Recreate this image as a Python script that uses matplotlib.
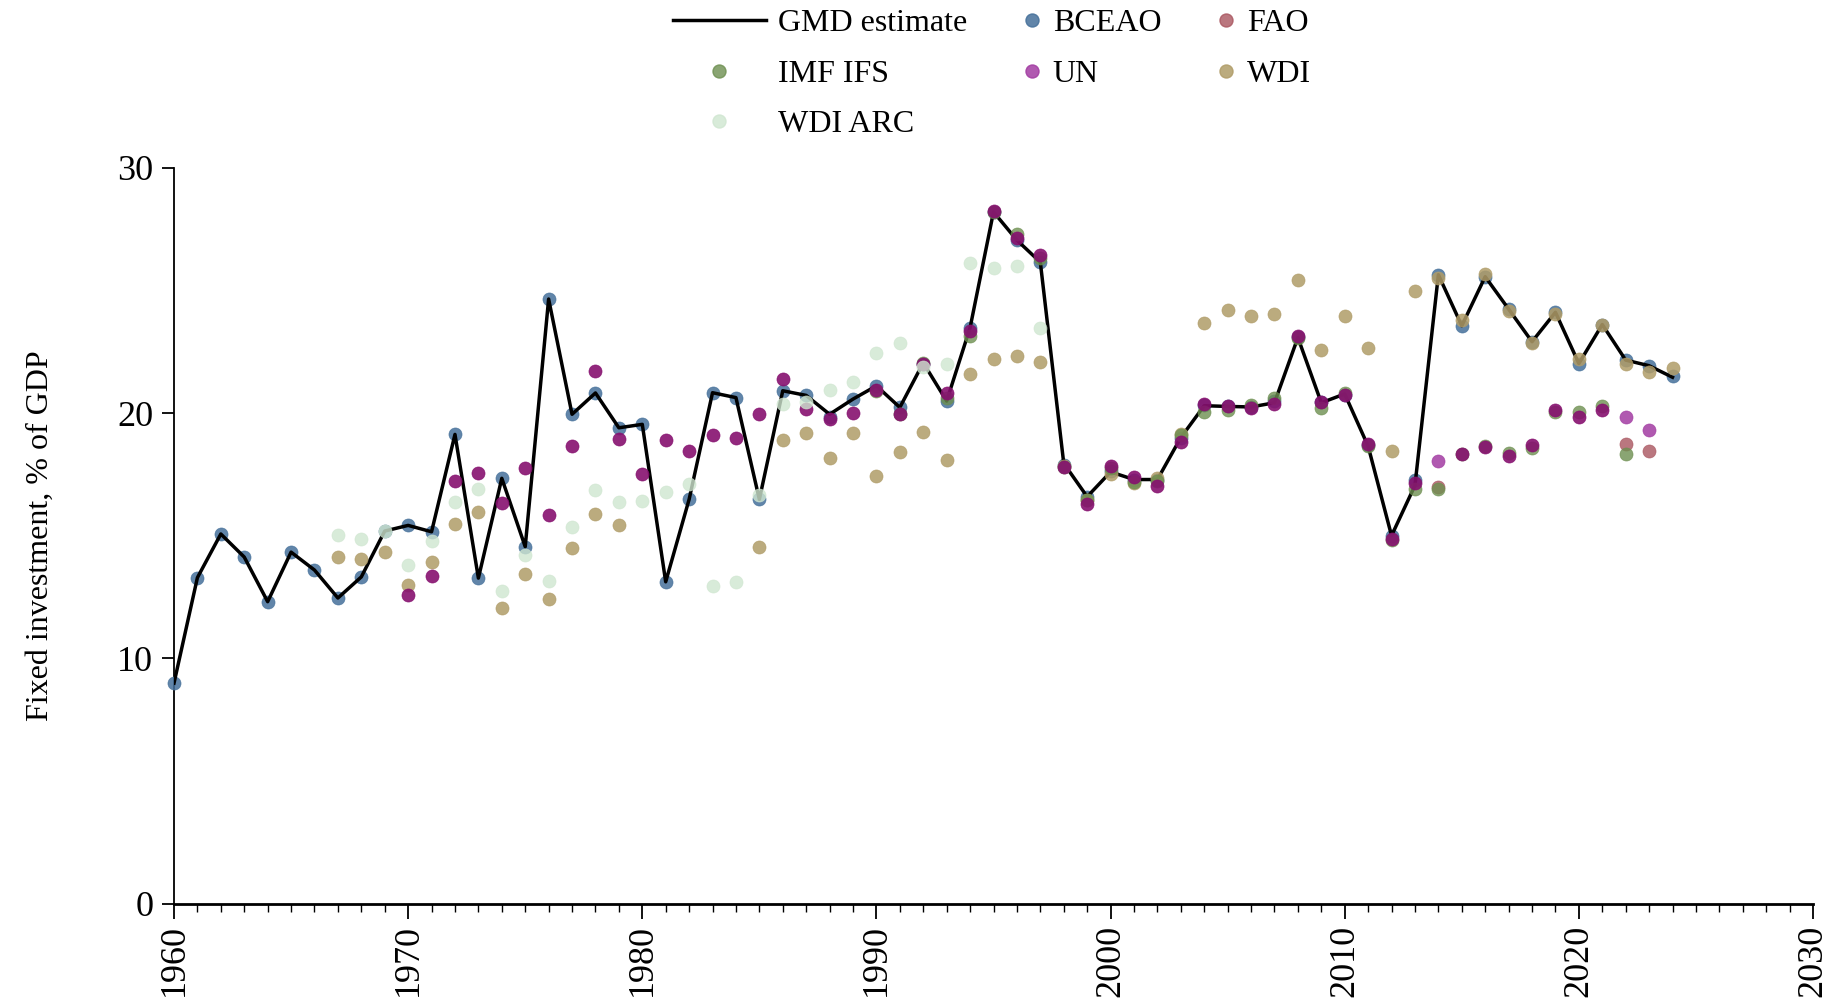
import numpy as np
import matplotlib
matplotlib.use("Agg")
import matplotlib.pyplot as plt
from matplotlib.lines import Line2D
from matplotlib.legend_handler import HandlerBase
from matplotlib.ticker import MultipleLocator

plt.rcParams['font.family'] = ['Liberation Serif', 'DejaVu Serif']

# ---------------- data ----------------
bceao_years = list(range(1960, 2025))
bceao_values = [8.99, 13.29, 15.07, 14.13, 12.31, 14.33, 13.6, 12.46, 13.32, 15.19,
                15.42, 15.16, 19.13, 13.27, 17.34, 14.55, 24.65, 19.95, 20.82, 19.4,
                19.54, 13.12, 16.48, 20.83, 20.63, 16.48, 20.91, 20.72, 19.82, 20.57,
                21.11, 20.23, 22.0, 20.49, 23.48, 28.2, 27.05, 26.15, 17.88, 16.59,
                17.63, 17.29, 17.29, 19.0, 20.34, 20.29, 20.23, 20.49, 23.1, 20.45,
                20.75, 18.7, 15.0, 17.26, 25.64, 23.56, 25.56, 24.24, 22.91, 24.11,
                22.02, 23.61, 22.16, 21.93, 21.5]

gmd_years = list(range(1960, 2025))
gmd_values = [8.99, 13.29, 15.07, 14.13, 12.31, 14.33, 13.6, 12.46, 13.32, 15.19,
              15.42, 15.16, 19.13, 13.27, 17.34, 14.55, 24.65, 19.95, 20.82, 19.4,
              19.54, 13.12, 16.48, 20.83, 20.63, 16.48, 20.91, 20.72, 19.95, 20.57,
              21.11, 20.23, 22.05, 20.49, 23.48, 28.2, 27.05, 26.15, 17.95, 16.59,
              17.6, 17.29, 17.29, 19.0, 20.3, 20.27, 20.25, 20.42, 23.08, 20.42,
              20.78, 18.65, 15.0, 17.05, 25.64, 23.56, 25.56, 24.24, 22.91, 24.11,
              22.02, 23.61, 22.16, 21.93, 21.46]

fao_years = [2014, 2022, 2023]
fao_values = [17.0, 18.75, 18.45]

imf_years = list(range(1990, 2023))
imf_values = [20.91, 19.95, 22.05, 20.6, 23.15, 28.2, 27.3, 26.32, 17.8, 16.44,
              17.78, 17.19, 17.24, 19.11, 20.05, 20.13, 20.32, 20.63, 23.07, 20.21,
              20.83, 18.67, 14.83, 16.9, 16.9, 18.33, 18.66, 18.38, 18.59, 20.03,
              20.03, 20.3, 18.34]

# UN points drawn in the darker shade
un_years = list(range(1970, 2014)) + list(range(2015, 2022))
un_values = [12.59, 13.37, 17.22, 17.56, 16.33, 17.76, 15.86, 18.66, 21.73, 18.93,
             17.5, 18.89, 18.46, 19.12, 18.98, 19.95, 21.38, 20.15, 19.74, 19.99,
             20.96, 19.98, 22.02, 20.8, 23.33, 28.24, 27.14, 26.44, 17.8, 16.3,
             17.86, 17.39, 17.03, 18.82, 20.38, 20.3, 20.2, 20.36, 23.15, 20.46,
             20.72, 18.73, 14.88, 17.16,
             18.35, 18.61, 18.23, 18.69, 20.13, 19.82, 20.13]
# UN points drawn in the lighter shade
un_light_years = [2014, 2022, 2023]
un_light_values = [18.03, 19.82, 19.29]

wdi_years = list(range(1967, 1980)) + list(range(1985, 2025))
wdi_values = [14.15, 14.07, 14.32, 13.01, 13.94, 15.46, 15.97, 12.06, 13.43, 12.42,
              14.49, 15.9, 15.42,
              14.53, 18.92, 19.18, 18.18, 19.17, 17.45, 18.43, 19.21, 18.1, 21.61,
              22.2, 22.33, 22.1, 17.84, 16.44, 17.53, 17.14, 17.37, 19.14, 23.69,
              24.22, 23.94, 24.05, 25.43, 22.59, 23.97, 22.67, 18.47, 24.98, 25.51,
              23.8, 25.69, 24.16, 22.87, 24.04, 22.22, 23.61, 22.0, 21.69, 21.85]

wdiarc_years = list(range(1967, 1998))
wdiarc_values = [15.04, 14.88, 15.2, 13.82, 14.79, 16.36, 16.9, 12.74, 14.21, 13.16,
                 15.35, 16.86, 16.36, 16.4, 16.8, 17.11, 12.96, 13.13, 16.64, 20.38,
                 20.46, 20.93, 21.27, 22.44, 22.86, 21.89, 22.0, 26.13, 25.9, 25.98,
                 23.45]

x_ticks = [1960, 1970, 1980, 1990, 2000, 2010, 2020, 2030]
y_ticks = [0, 10, 20, 30]
y_label = "Fixed investment, % of GDP"

# ---------------- figure ----------------
W, H = 1840, 1008
fig = plt.figure(figsize=(W / 100, H / 100), dpi=100)
ax = fig.add_axes([174 / W, 1 - 903.6 / H, (1813 - 174) / W, (903.6 - 167.8) / H])

ms = 9.4
c_bceao = '#45709a'
c_fao = '#a9555f'
c_imf = '#6d8f50'
c_un = '#86106f'
c_un_light = '#a23ca2'
c_wdi = '#b09c68'
c_wdiarc = '#cfe6d0'

def dots(xs, ys, color, alpha, z):
    ax.plot(xs, ys, linestyle='none', marker='o', markersize=ms,
            markerfacecolor=color, markeredgecolor=color, markeredgewidth=0.5,
            alpha=alpha, zorder=z, clip_on=False)

dots(fao_years, fao_values, c_fao, 0.8, 2)
dots(bceao_years, bceao_values, c_bceao, 0.85, 3)
ax.plot(gmd_years, gmd_values, color='black', linewidth=2.5, zorder=3.5)
dots(wdi_years, wdi_values, c_wdi, 0.85, 4)
dots(imf_years, imf_values, c_imf, 0.8, 5)
dots(un_years, un_values, c_un, 0.9, 6)
dots(un_light_years, un_light_values, c_un_light, 0.85, 6)
dots(wdiarc_years, wdiarc_values, c_wdiarc, 0.8, 7)

ax.set_xlim(1960, 2030)
ax.set_ylim(0, 30)
ax.set_xticks(x_ticks)
ax.set_xticklabels([str(t) for t in x_ticks], rotation=90, fontsize=26)
ax.xaxis.set_minor_locator(MultipleLocator(1))
ax.set_yticks(y_ticks)
ax.set_yticklabels([str(t) for t in y_ticks], fontsize=26)
ax.tick_params(axis='x', which='major', length=11, width=1.3, direction='out', pad=4)
ax.tick_params(axis='x', which='minor', length=6, width=1.0, direction='out')
ax.tick_params(axis='y', which='major', length=9, width=1.3, direction='out', pad=6)

for s in ['top', 'right']:
    ax.spines[s].set_visible(False)
ax.spines['left'].set_linewidth(1.3)
ax.spines['bottom'].set_linewidth(2.0)

ax.set_ylabel(y_label, fontsize=23)
ax.yaxis.set_label_coords(-0.073, 0.5)

# ---------------- legend ----------------
class MarkerAt(HandlerBase):
    def __init__(self, frac):
        super().__init__()
        self.frac = frac

    def create_artists(self, legend, orig_handle, xdescent, ydescent, width,
                       height, fontsize, trans):
        x = -xdescent + width * self.frac
        y = height / 2 - ydescent
        ln = Line2D([x], [y], linestyle='none', marker='o',
                    markersize=orig_handle.get_markersize(),
                    markerfacecolor=orig_handle.get_markerfacecolor(),
                    markeredgecolor=orig_handle.get_markeredgecolor(),
                    alpha=orig_handle.get_alpha())
        ln.set_transform(trans)
        return [ln]

def mk(color, alpha):
    return Line2D([], [], linestyle='none', marker='o', markersize=9.4,
                  markerfacecolor=color, markeredgecolor=color, alpha=alpha)

h_gmd = Line2D([], [], color='black', linewidth=2.5)
h_bceao = mk(c_bceao, 0.85)
h_fao = mk(c_fao, 0.8)
h_imf = mk(c_imf, 0.8)
h_un = mk(c_un_light, 0.85)
h_wdi = mk(c_wdi, 0.85)
h_wdiarc = mk(c_wdiarc, 0.8)

handles = [h_gmd, h_imf, h_wdiarc, h_bceao, h_un, h_fao, h_wdi]
labels = ['GMD estimate', 'IMF IFS', 'WDI ARC', 'BCEAO', 'UN', 'FAO', 'WDI']
hmap = {h_imf: MarkerAt(0.5), h_wdiarc: MarkerAt(0.5),
        h_bceao: MarkerAt(0.91), h_un: MarkerAt(0.91),
        h_fao: MarkerAt(0.91), h_wdi: MarkerAt(0.91)}

leg = fig.legend(handles, labels, ncol=3, loc='upper left',
                 bbox_to_anchor=(673 / W, 1 - 9 / H), frameon=False,
                 fontsize=23, handlelength=2.9, handletextpad=0.38,
                 columnspacing=-0.6, labelspacing=0.66, borderpad=0,
                 borderaxespad=0, handler_map=hmap)

fig.savefig('out.png', dpi=100)
